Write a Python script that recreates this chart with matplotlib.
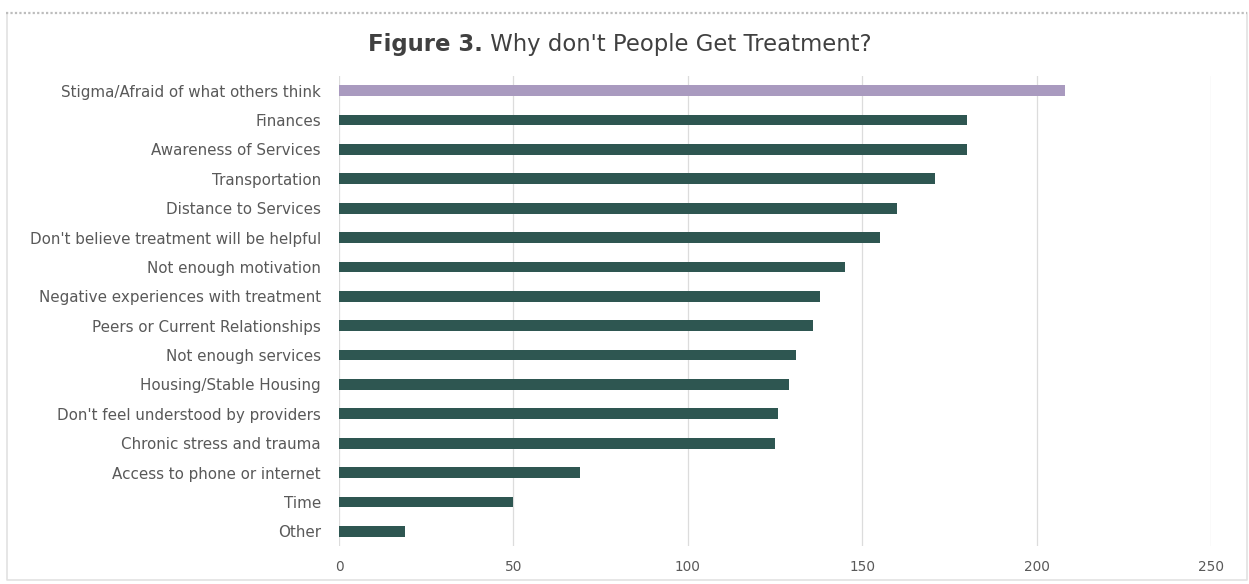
import matplotlib.pyplot as plt
from matplotlib.lines import Line2D

plt.rcParams['font.family'] = ['DejaVu Sans']

reasons = ["Stigma/Afraid of what others think", "Finances", "Awareness of Services",
           "Transportation", "Distance to Services", "Don't believe treatment will be helpful",
           "Not enough motivation", "Negative experiences with treatment",
           "Peers or Current Relationships", "Not enough services", "Housing/Stable Housing",
           "Don't feel understood by providers", "Chronic stress and trauma",
           "Access to phone or internet", "Time", "Other"]
counts = [208, 180, 180, 171, 160, 155, 145, 138, 136, 131, 129, 126, 125, 69, 50, 19]
ticks = [0, 50, 100, 150, 200, 250]

purple = "#A99ABF"
teal = "#2E5651"
colors = [purple] + [teal] * (len(reasons) - 1)

W, H = 1249, 584
fig = plt.figure(figsize=(W / 100, H / 100), dpi=100)
ax = fig.add_axes([339/W, 1 - 546/H, (1211 - 339)/W, (546 - 76)/H])

y = list(range(len(reasons)))
ax.barh(y, counts, height=0.37, color=colors, zorder=3)
ax.set_ylim(len(reasons) - 0.5, -0.5)
ax.set_xlim(0, 250)
ax.set_yticks(y)
ax.set_yticklabels(reasons, fontsize=10.9, color="#595959")
ax.set_xticks(ticks)
ax.set_xticklabels([str(t) for t in ticks], fontsize=9.8, color="#595959")
ax.tick_params(axis='y', length=0, pad=13)
ax.tick_params(axis='x', length=0, pad=10)
ax.grid(axis='x', color="#DCDCDC", linewidth=0.9, zorder=0)
for s in ax.spines.values():
    s.set_visible(False)

# chart frame: solid light sides/bottom, dotted top edge
def fline(xs, ys, **kw):
    fig.lines.append(Line2D([v / W for v in xs], [1 - v / H for v in ys],
                            transform=fig.transFigure, **kw))

fline([7, 7, 1247, 1247], [13, 580, 580, 13], color="#E2E2E2", linewidth=1.2)
fline([6, 1247], [13, 13], color="#BDBDBD", linewidth=1.6, linestyle=(0, (1, 1)))

# title: bold prefix + regular remainder, centred as a whole
fig.canvas.draw()
r = fig.canvas.get_renderer()
t1 = fig.text(0, 1 - 45/H, "Figure 3.", fontsize=16.4, fontweight='bold',
              color="#404040", va='center', ha='left')
t2 = fig.text(0, 1 - 45/H, " Why don't People Get Treatment?", fontsize=16.4,
              color="#404040", va='center', ha='left')
w1 = t1.get_window_extent(r).width
w2 = t2.get_window_extent(r).width
x0 = 620 - (w1 + w2) / 2
t1.set_x(x0 / W)
t2.set_x((x0 + w1) / W)

fig.savefig("out.png", dpi=100)
